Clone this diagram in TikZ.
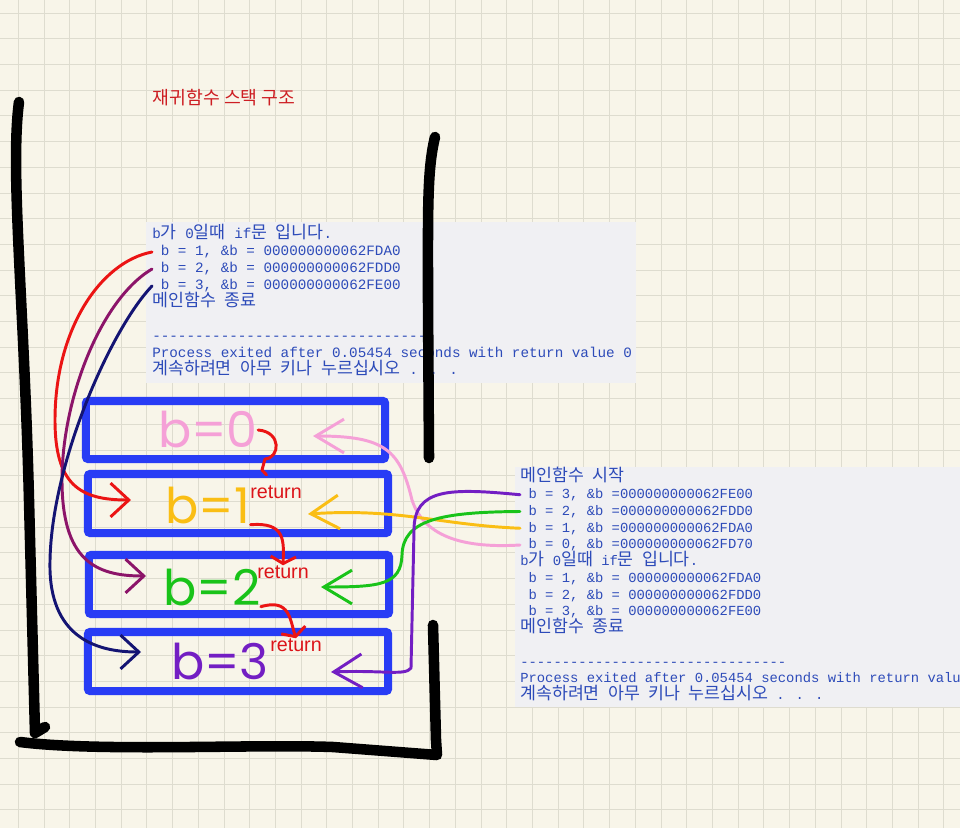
\documentclass[tikz,border=0pt]{standalone}
\usepackage{fontspec}
\setmainfont{Liberation Sans}
\newfontfamily\krfont{Noto Sans CJK KR}
\newfontfamily\confont{Liberation Mono}
\newfontfamily\handfont{Poppins}
\usetikzlibrary{arrows.meta}

\definecolor{paper}{RGB}{248,245,233}
\definecolor{gridgray}{RGB}{222,220,207}
\definecolor{panel}{RGB}{240,240,243}
\definecolor{contxt}{RGB}{45,75,185}
\definecolor{stackblue}{RGB}{40,60,245}
\definecolor{titlered}{RGB}{205,30,35}
\definecolor{retred}{RGB}{220,20,25}
\definecolor{penred}{RGB}{235,20,20}
\definecolor{penmag}{RGB}{140,20,105}
\definecolor{pennavy}{RGB}{20,20,115}
\definecolor{penpink}{RGB}{245,160,215}
\definecolor{penyellow}{RGB}{250,190,20}
\definecolor{pengreen}{RGB}{25,195,25}
\definecolor{penpurple}{RGB}{115,30,195}

\newcommand{\krtxt}[1]{{\krfont\fontsize{12.3}{12}\selectfont #1}}
\newcommand{\dashrow}[1]{\foreach \n in {1,...,#1}{-\kern0pt}}

\begin{document}
\begin{tikzpicture}[
  x=0.025cm, y=-0.025cm,
  con/.style={anchor=west, inner sep=0pt, text height=7.5pt, text depth=2pt, text=contxt, font=\confont\fontsize{10.15}{12}\selectfont},
  conr/.style={con, font=\confont\fontsize{9.85}{12}\selectfont},
  frame/.style={draw=stackblue, line width=5.7pt, rounded corners=1.5pt, minimum width=7.5cm, minimum height=1.475cm},
  hand/.style={inner sep=0pt, font=\handfont\fontsize{35}{35}\selectfont},
  ret/.style={inner sep=0pt, text=retred, font=\fontsize{14}{14}\selectfont},
  pen/.style={line width=2.1pt, line cap=round, line join=round},
  wall/.style={line width=7.5pt, line cap=round, line join=round, black},
  gridline/.style={draw=gridgray, line width=0.6pt},
  lefttip/.style={-{Straight Barb[length=13pt,width=24pt]}},
  righttip/.style={-{Straight Barb[length=20pt,width=24pt]}},
  rettip/.style={-{Straight Barb[length=5pt,width=18pt]}}
]
  \clip (0,0) rectangle (960,828);
  \useasboundingbox (0,0) rectangle (960,828);
  \fill[paper] (0,0) rectangle (960,828);
  \draw[gridline, shift={(18.3,13)}, step=0.6425cm] (-18.3,-13) grid (941.7,815);

  % title
  \node[font=\krfont\fontsize{13}{14}\selectfont, text=titlered] (T) at (224,98) {재귀함수 스택 구조};

  % console output, top
  \fill[panel] (146,222) rectangle (636,383);
  \node[con] (A0) at (152,235) {b\krtxt{가} 0\krtxt{일때} if\krtxt{문} \krtxt{입니다}.};
  \node[con] (A1) at (152,252) {\ b = 1, \&b = 000000000062FDA0};
  \node[con] (A2) at (152,269) {\ b = 2, \&b = 000000000062FDD0};
  \node[con] (A3) at (152,286) {\ b = 3, \&b = 000000000062FE00};
  \node[con] (A4) at (152,303) {\krtxt{메인함수} \krtxt{종료}};
  \node[con] (A6) at (152,337) {\dashrow{32}};
  \node[con] (A7) at (152,354) {Process exited after 0.05454 seconds with return value 0};
  \node[con] (A8) at (152,371) {\krtxt{계속하려면} \krtxt{아무} \krtxt{키나} \krtxt{누르십시오} . . .};

  % console output, right
  \fill[panel] (515,467) rectangle (960,707);
  \node[conr] (C0) at (520,478) {\krtxt{메인함수} \krtxt{시작}};
  \node[conr] (C1) at (520,494.75) {\ b = 3, \&b =000000000062FE00};
  \node[conr] (C2) at (520,511.5) {\ b = 2, \&b =000000000062FDD0};
  \node[conr] (C3) at (520,528.25) {\ b = 1, \&b =000000000062FDA0};
  \node[conr] (C4) at (520,545) {\ b = 0, \&b =000000000062FD70};
  \node[conr] (C5) at (520,561.75) {b\krtxt{가} 0\krtxt{일때} if\krtxt{문} \krtxt{입니다}.};
  \node[conr] (C6) at (520,578.5) {\ b = 1, \&b = 000000000062FDA0};
  \node[conr] (C7) at (520,595.25) {\ b = 2, \&b = 000000000062FDD0};
  \node[conr] (C8) at (520,612) {\ b = 3, \&b = 000000000062FE00};
  \node[conr] (C9) at (520,628.75) {\krtxt{메인함수} \krtxt{종료}};
  \node[conr] (C11) at (520,662.25) {\dashrow{32}};
  \node[conr] (C12) at (520,679) {Process exited after 0.05454 seconds with return value 0};
  \node[conr] (C13) at (520,695.75) {\krtxt{계속하려면} \krtxt{아무} \krtxt{키나} \krtxt{누르십시오} . . .};

  % stack walls
  \draw[wall] (19,102) .. controls (10,170) and (24,300) .. (29,500) -- (35,733) -- (45,727);
  \draw[wall] (435,137) .. controls (427,170) and (428,210) .. (428,300) -- (429,458);
  \draw[wall] (20,742) .. controls (100,752) and (250,744) .. (333,747) -- (437,755) -- (436,740) -- (433,625);

  % frames
  \node[frame, minimum width=7.475cm, minimum height=1.45cm] (B0) at (235.5,430) {};
  \node[frame] (B1) at (238,503.5) {};
  \node[frame] (B2) at (239,584.5) {};
  \node[frame] (B3) at (238,661.5) {};

  \node[hand, text=penpink] (V0) at (208,430) {b=0};
  \node[hand, text=penyellow] (V1) at (208,506) {b=1};
  \node[hand, text=pengreen] (V2) at (212,588) {b=2};
  \node[hand, text=penpurple] (V3) at (220,662) {b=3};

  \node[ret] (R1) at (276,492) {return};
  \node[ret] (R2) at (283,572) {return};
  \node[ret] (R3) at (296,645) {return};

  % arrow ends
  \coordinate (K1) at (131,500);
  \coordinate (K2) at (146,576);
  \coordinate (K3) at (141,652);
  \coordinate (KP) at (313,436);
  \coordinate (KY) at (308,514);
  \coordinate (KG) at (321,587);
  \coordinate (KV) at (331,672);

  \draw[pen, penred, lefttip] (A1.west) .. controls (100,262) and (55,330) .. (55,420) .. controls (55,485) and (80,500) .. (K1);
  \draw[pen, penmag, lefttip] (A2.west) .. controls (100,300) and (62,400) .. (62,480) .. controls (62,560) and (95,576) .. (K2);
  \draw[pen, pennavy, lefttip] (A3.west) .. controls (110,330) and (48,470) .. (50,570) .. controls (52,640) and (100,652) .. (K3);

  \draw[pen, penpink, righttip] (C4.west) .. controls (470,548) and (425,540) .. (412,500) .. controls (400,450) and (385,436) .. (KP);
  \draw[pen, penyellow, righttip] (C3.west) .. controls (440,525) and (400,508) .. (KY);
  \draw[pen, pengreen, righttip] (C2.west) .. controls (440,512) and (403,520) .. (402,555) .. controls (401,585) and (380,587) .. (KG);
  \draw[pen, penpurple, righttip] (C1.west) .. controls (450,488) and (414,488) .. (414,530) -- (411,668) .. controls (405,676) and (385,670) .. (KV);

  \draw[pen, penred, shorten >=10pt] (V0.east) .. controls (282,432) and (280,458) .. (265,459) -- (262,470) -- (R1.north);
  \draw[pen, penred, rettip] (V1.south east) .. controls (285,522) and (284,540) .. (R2.north);
  \draw[pen, penred, rettip] (V2.south east) .. controls (290,598) and (290,620) .. (R3.north);
\end{tikzpicture}
\end{document}
